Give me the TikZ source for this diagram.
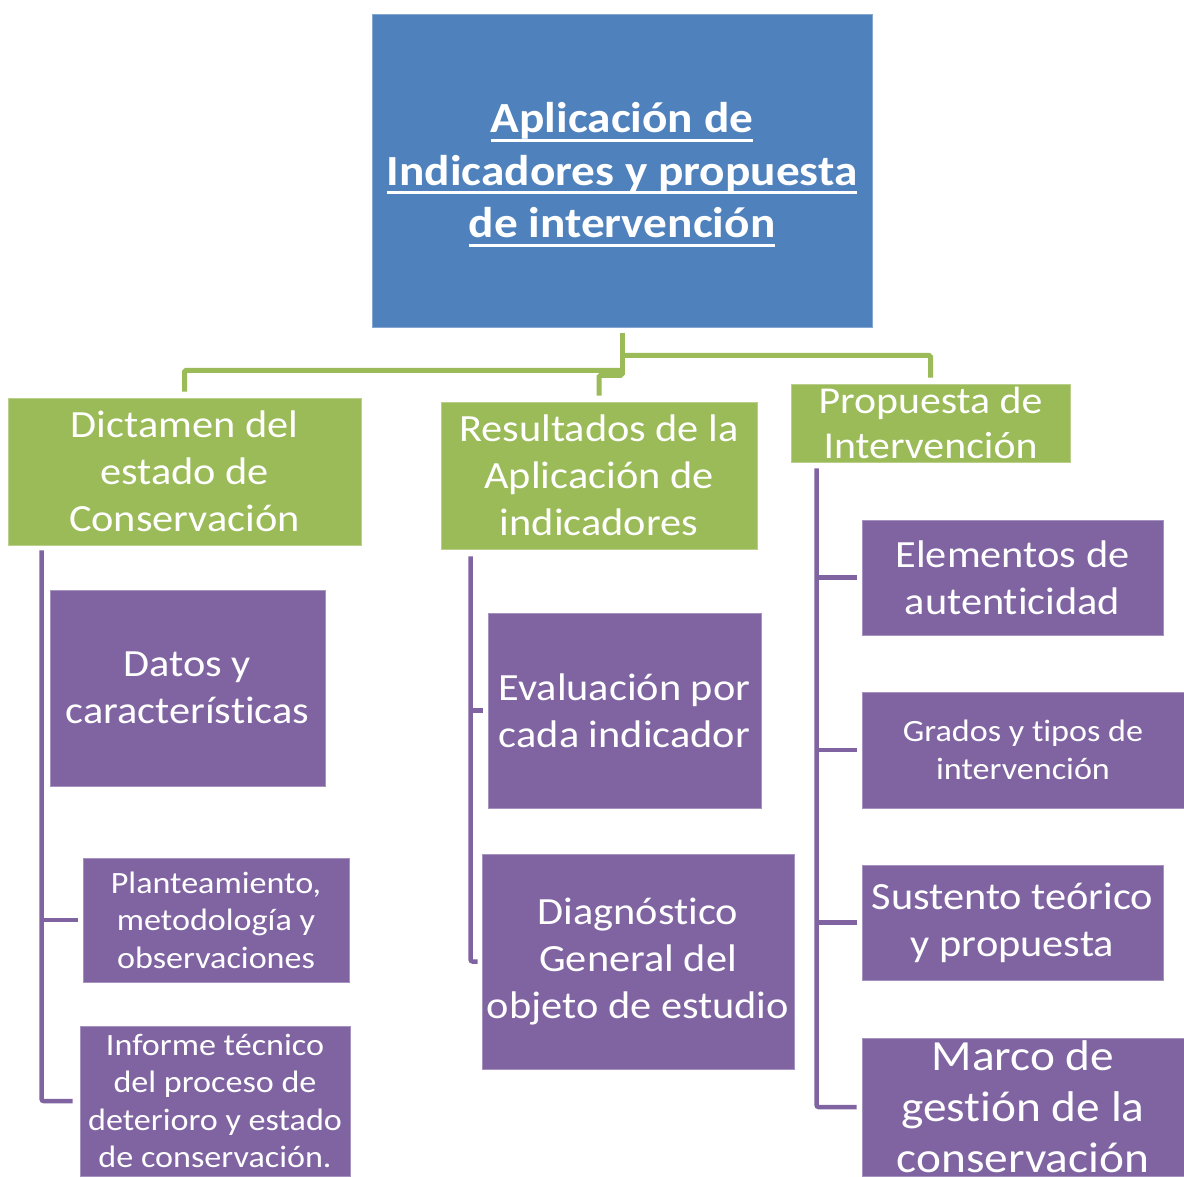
\documentclass[tikz,border=0pt]{standalone}
\usepackage{fontspec}
\setmainfont{Carlito}[FakeStretch=1.1,Ligatures=NoCommon]
\definecolor{aplblue}{HTML}{4F81BD}
\definecolor{resgreen}{HTML}{9BBB59}
\definecolor{datpurple}{HTML}{8064A2}
\newcommand{\txtT}{\fontsize{43}{52.5}\selectfont\bfseries}
\newcommand{\txtL}{\fontsize{38.5}{47}\selectfont}
\newcommand{\txtP}{\fontsize{38}{45}\selectfont}
\newcommand{\txtS}{\fontsize{31}{37.5}\selectfont}
\newcommand{\txtXL}{\fontsize{43}{51}\selectfont}
\newcommand{\ulline}[1]{\setbox0\hbox{#1}\rlap{\smash{\rule[-9pt]{\wd0}{3pt}}}\box0}
\begin{document}
\begin{tikzpicture}[x=1pt,y=-1pt,
	box/.style={rectangle,inner sep=0pt,text=white,align=center,line width=0.8pt},
	bluebox/.style={box,fill=aplblue,draw=aplblue!70!white},
	greenbox/.style={box,fill=resgreen,draw=resgreen!70!white,font=\txtL},
	purplebox/.style={box,fill=datpurple,draw=datpurple!70!white,font=\txtL},
	greenline/.style={draw=resgreen,line width=5pt,rounded corners=1.5pt},
	purpleline/.style={draw=datpurple,line width=4.5pt,rounded corners=2pt}]
\useasboundingbox[fill=white] (0,0) rectangle (1184,1176);
\node[bluebox,minimum width=500,minimum height=313,font=\txtT] (apl) at (622,170.5)
	{\ulline{Aplicación de}\\\ulline{Indicadores y propuesta}\\\ulline{de intervención}};
\node[greenbox,minimum width=353,minimum height=147] (dict) at (184.5,471.5)
	{Dictamen del\\estado de\\Conservación};
\node[greenbox,minimum width=316,minimum height=147] (res) at (599,475.5)
	{Resultados de la\\Aplicación de\\indicadores};
\node[greenbox,minimum width=279,minimum height=78,font=\txtP] (prop) at (930.5,423)
	{Propuesta de\\Intervención};
\node[purplebox,minimum width=275,minimum height=196] (datos) at (187.5,688)
	{Datos y\\características};
\node[purplebox,minimum width=266,minimum height=124,font=\txtS] (plan) at (216,920)
	{Planteamiento,\\metodología y\\observaciones};
\node[purplebox,minimum width=270,minimum height=150,font=\txtS] (inf) at (215,1101)
	{Informe técnico\\del proceso de\\deterioro y estado\\de conservación.};
\node[purplebox,minimum width=273,minimum height=195] (eval) at (624.5,710.5)
	{Evaluación por\\cada indicador};
\node[purplebox,minimum width=312,minimum height=215] (diag) at (638,961.5)
	{Diagnóstico\\General del\\objeto de estudio};
\node[purplebox,minimum width=301,minimum height=115] (elem) at (1012.5,577.5)
	{Elementos de\\autenticidad};
\node[purplebox,minimum width=322,minimum height=116,font=\txtS] (grad) at (1023,750)
	{Grados y tipos de\\intervención};
\node[purplebox,minimum width=301,minimum height=115] (sust) at (1012.5,922.5)
	{Sustento teórico\\y propuesta};
\node[purplebox,minimum width=322,minimum height=138,font=\txtXL] (marco) at (1023,1107)
	{Marco de\\gestión de la\\conservación};
\draw[greenline] ([yshift=-6]apl.south) -- ([yshift=-48]apl.south);
\draw[greenline] ([yshift=-28]apl.south) -| ([yshift=6]prop.north);
\draw[greenline] ([yshift=-43]apl.south) -| ([yshift=6]dict.north);
\draw[greenline] ([yshift=-43]apl.south) -- ([yshift=-48]apl.south) -| ([yshift=6]res.north);
\draw[purpleline] ([xshift=34,yshift=-5]dict.south west) |- ([xshift=-7]inf.west);
\draw[purpleline] ([xshift=34]dict.south west |- plan.west) -- ([xshift=-5]plan.west);
\draw[purpleline] ([xshift=30,yshift=-7]res.south west) |- ([xshift=-4]diag.west);
\draw[purpleline] ([xshift=30]res.south west |- eval.west) -- ([xshift=-5]eval.west);
\draw[purpleline] ([xshift=26,yshift=-6]prop.south west) |- ([xshift=-5]marco.west);
\foreach \n in {elem,grad,sust}
	\draw[purpleline] ([xshift=26]prop.south west |- \n.west) -- ([xshift=-5]\n.west);
\end{tikzpicture}
\end{document}
